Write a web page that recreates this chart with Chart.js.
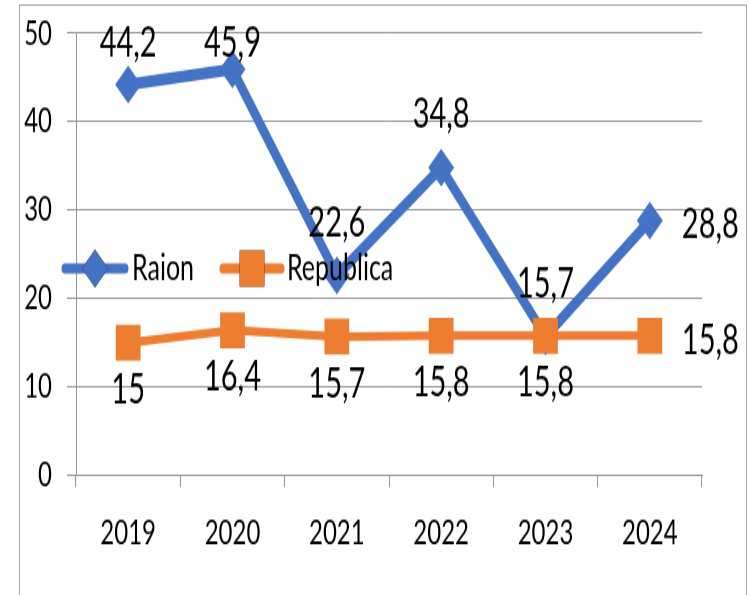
<!DOCTYPE html>
<html>
<head>
<meta charset="utf-8">
<script src="https://cdn.jsdelivr.net/npm/chart.js@4.4.1/dist/chart.umd.min.js"></script>
<style>
    html, body { margin: 0; padding: 0; background: #fff; overflow: hidden; }
    /* the source picture is stretched vertically, so the canvas is too */
    #wrap {
        position: absolute; left: 0; top: 0;
        width: 749px; height: 410px;
        transform: scaleY(1.4512); transform-origin: 0 0;
    }
</style>
</head>
<body>
<div id="wrap"><canvas id="chart"></canvas></div>
<script>
const years = ['2019', '2020', '2021', '2022', '2023', '2024'];
const raion = [44.2, 45.9, 22.6, 34.8, 15.7, 28.8];
const republica = [15, 16.4, 15.7, 15.8, 15.8, 15.8];
const yTicks = [0, 10, 20, 30, 40, 50];
const seriesNames = ['Raion', 'Republica'];

const FONT = 'Lato';
const BLUE = '#4472C4';
const ORANGE = '#ED7D31';
const GRID = '#959595';

// ── Plugins ──────────────────────────────────────────────────

const frame = {
    id: 'frame',
    afterDraw(chart) {
        const ctx = chart.ctx;
        ctx.save();
        ctx.strokeStyle = '#a6a6a6';
        ctx.lineWidth = 1;
        ctx.strokeRect(19.5, 3.5, 727, chart.height + 20);
        ctx.restore();
    }
};

const valueLabels = {
    id: 'valueLabels',
    afterDatasetsDraw(chart) {
        const ctx = chart.ctx;
        const top = chart.chartArea.top;
        ctx.save();
        ctx.font = `29px ${FONT}`;
        ctx.fillStyle = '#000';
        ctx.textBaseline = 'middle';
        chart.data.datasets.forEach((ds, di) => {
            const meta = chart.getDatasetMeta(di);
            meta.data.forEach((pt, i) => {
                const txt = String(ds.data[i]).replace('.', ',');
                if (i === ds.data.length - 1) {
                    ctx.textAlign = 'left';
                    ctx.fillText(txt, pt.x + 32, pt.y + 3);
                } else if (di === 0) {
                    ctx.textAlign = 'center';
                    ctx.fillText(txt, pt.x, Math.max(pt.y - 36.6, top + 7));
                } else {
                    ctx.textAlign = 'center';
                    ctx.fillText(txt, pt.x, pt.y + 32.4);
                }
            });
        });
        ctx.restore();
    }
};

// legend sits inside the plot, over the lines
const innerLegend = {
    id: 'innerLegend',
    afterDraw(chart) {
        const ctx = chart.ctx;
        const y = 185;
        const items = [
            { x0: 65, x1: 125, tx: 132 },
            { x0: 223, x1: 281, tx: 287 },
        ];
        ctx.save();
        chart.data.datasets.forEach((ds, i) => {
            const it = items[i];
            ctx.strokeStyle = ds.borderColor;
            ctx.lineWidth = 7;
            ctx.lineCap = 'round';
            ctx.beginPath();
            ctx.moveTo(it.x0, y);
            ctx.lineTo(it.x1, y);
            ctx.stroke();
            Chart.helpers.drawPoint(ctx, {
                pointStyle: ds.pointStyle,
                radius: ds.pointRadius,
                borderWidth: 0,
            }, (it.x0 + it.x1) / 2, y);
            ctx.fillStyle = ds.borderColor;
            ctx.fill();
            ctx.fillStyle = '#000';
            ctx.font = `25px ${FONT}`;
            ctx.textAlign = 'left';
            ctx.textBaseline = 'middle';
            ctx.fillText(ds.label, it.tx, y);
        });
        ctx.restore();
    }
};

function draw() {
    new Chart(document.getElementById('chart'), {
        type: 'line',
        data: {
            labels: years,
            datasets: [
                {
                    label: seriesNames[0],
                    data: raion,
                    borderColor: BLUE,
                    backgroundColor: BLUE,
                    borderWidth: 8,
                    pointStyle: 'rectRot',
                    pointRadius: 13,
                    pointBorderWidth: 0,
                    tension: 0,
                    order: 1,
                },
                {
                    label: seriesNames[1],
                    data: republica,
                    borderColor: ORANGE,
                    backgroundColor: ORANGE,
                    borderWidth: 6,
                    pointStyle: 'rect',
                    pointRadius: 17.5,
                    pointBorderWidth: 0,
                    tension: 0,
                    order: 0,
                },
            ],
        },
        options: {
            responsive: true,
            maintainAspectRatio: false,
            animation: false,
            layout: { padding: { left: 0, right: 47, top: 22.8, bottom: 0 } },
            plugins: {
                legend: { display: false },
                tooltip: { enabled: false },
            },
            scales: {
                x: {
                    offset: true,
                    grid: { offset: true, drawOnChartArea: false, tickLength: 8, color: GRID },
                    border: { color: GRID },
                    ticks: { font: { family: FONT, size: 24 }, color: '#000', padding: 17, maxRotation: 0 },
                    afterFit(scale) {
                        scale.height = 82.4;
                        scale.paddingLeft = 0;
                        scale.paddingRight = 0;
                    },
                },
                y: {
                    min: 0,
                    max: 50,
                    afterBuildTicks(scale) { scale.ticks = yTicks.map(v => ({ value: v })); },
                    grid: { color: GRID, tickLength: 9 },
                    border: { color: GRID },
                    ticks: { font: { family: FONT, size: 24 }, color: '#000', padding: 15 },
                    afterFit(scale) {
                        scale.width = 76;
                        scale.paddingTop = 0;
                        scale.paddingBottom = 0;
                    },
                },
            },
        },
        plugins: [valueLabels, innerLegend, frame],
    });
}

document.fonts.load(`24px ${FONT}`).then(draw, draw);
</script>
</body>
</html>
